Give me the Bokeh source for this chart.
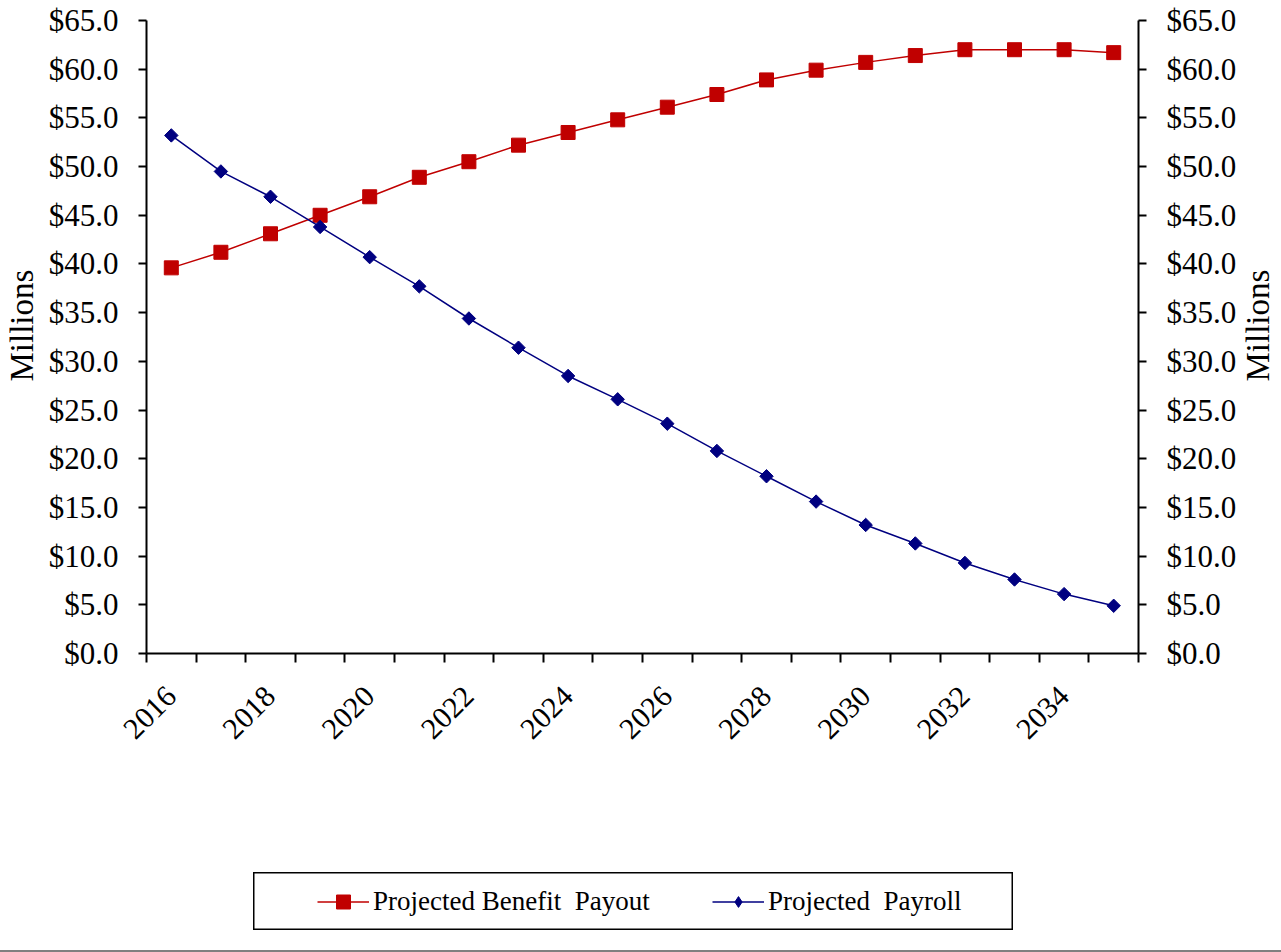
import math
from bokeh.plotting import figure
from bokeh.layouts import column, row
from bokeh.models import (Range1d, LinearAxis, FixedTicker, NumeralTickFormatter,
                          Legend, LegendItem, ColumnDataSource, Spacer, Label)
from bokeh.embed import file_html
from bokeh.resources import INLINE

# Projection data (millions of dollars)
years = list(range(2016, 2036))
benefit_payout = [39.6, 41.2, 43.1, 45.0, 46.9, 48.9, 50.5, 52.2, 53.5, 54.8,
                  56.1, 57.4, 58.9, 59.9, 60.7, 61.4, 62.0, 62.0, 62.0, 61.7]
payroll = [53.2, 49.5, 46.9, 43.8, 40.7, 37.7, 34.4, 31.4, 28.5, 26.1,
           23.6, 20.8, 18.2, 15.6, 13.2, 11.3, 9.3, 7.6, 6.1, 4.9]
y_ticks = [0, 5, 10, 15, 20, 25, 30, 35, 40, 45, 50, 55, 60, 65]
series_names = ["Projected Benefit  Payout", "Projected  Payroll"]
axis_title = "Millions"

FONT = "Liberation Serif"
RED = "#C00000"
NAVY = "#000080"

# categories sit at the middle of unit-wide slots
xpos = [i + 0.5 for i in range(len(years))]
src = ColumnDataSource(dict(x=xpos, year=years, benefit=benefit_payout, payroll=payroll))


def add_series(fig, payroll_marker="square", payroll_angle=math.pi / 4):
    r1 = fig.line("x", "benefit", source=src, line_color=RED, line_width=1.5)
    m1 = fig.scatter("x", "benefit", source=src, marker="square", size=14,
                     fill_color=RED, line_color=RED)
    r2 = fig.line("x", "payroll", source=src, line_color=NAVY, line_width=1.5)
    m2 = fig.scatter("x", "payroll", source=src, marker=payroll_marker, size=9.5,
                     angle=payroll_angle, fill_color=NAVY, line_color=NAVY)
    return (r1, m1), (r2, m2)


p = figure(frame_width=992, frame_height=633,
           min_border_left=106, min_border_top=20,
           min_border_right=99, min_border_bottom=107,
           x_range=Range1d(0, len(years)), y_range=Range1d(0, 65),
           output_backend="svg", toolbar_location=None,
           y_axis_location=None, x_axis_location=None)
p.grid.visible = False
p.outline_line_color = None
p.background_fill_color = "white"
p.border_fill_color = "white"


def style_y(ax):
    ax.ticker = FixedTicker(ticks=y_ticks)
    ax.formatter = NumeralTickFormatter(format="$0.0")
    ax.major_label_text_font = FONT
    ax.major_label_text_font_size = "31px"
    ax.major_label_text_color = "black"
    ax.major_label_standoff = 20
    ax.major_tick_out = 8
    ax.major_tick_in = 0
    ax.minor_tick_out = 0
    ax.minor_tick_in = 0
    ax.axis_line_width = 2
    ax.major_tick_line_width = 2
    ax.axis_line_color = "black"
    ax.major_tick_line_color = "black"


left = LinearAxis()
style_y(left)
p.add_layout(left, "left")

right = LinearAxis()
style_y(right)
p.add_layout(right, "right")

# x axis: tick marks on slot boundaries, labels on every other category
label_pos = [xpos[i] for i in range(0, len(years), 2)]
xax = LinearAxis(ticker=FixedTicker(ticks=label_pos, minor_ticks=list(range(len(years) + 1))))
xax.major_label_overrides = {xpos[i]: str(years[i]) for i in range(0, len(years), 2)}
xax.major_label_orientation = math.pi / 4
xax.major_label_text_font = FONT
xax.major_label_text_font_size = "30px"
xax.major_label_text_color = "black"
xax.major_label_standoff = 29
xax.major_tick_out = 0
xax.major_tick_in = 0
xax.minor_tick_out = 9
xax.minor_tick_in = 0
xax.minor_tick_line_width = 2
xax.minor_tick_line_color = "black"
xax.axis_line_width = 2
xax.axis_line_color = "black"
p.add_layout(xax, "below")

add_series(p)


def title_strip(width, x):
    """Narrow strip beside the chart holding a vertical 'Millions' title."""
    s = figure(frame_width=width, frame_height=633,
               min_border_left=0, min_border_right=0,
               min_border_top=20, min_border_bottom=107,
               x_range=Range1d(0, 1), y_range=Range1d(0, 1),
               output_backend="svg", toolbar_location=None,
               x_axis_location=None, y_axis_location=None)
    s.grid.visible = False
    s.outline_line_color = None
    s.border_fill_color = "white"
    s.add_layout(Label(x=x, y=0.518, text=axis_title, angle=math.pi / 2,
                       text_align="center", text_baseline="middle",
                       text_font=FONT, text_font_size="33px", text_color="black"))
    return s


left_title = title_strip(40, 0.54)
right_title = title_strip(42, 0.43)

# legend strip below the chart; its frame outline is the legend box and the
# series drawn in it lie outside its (empty) view
leg = figure(frame_width=760, frame_height=58,
             min_border_left=0, min_border_right=0,
             min_border_top=0, min_border_bottom=0,
             x_range=Range1d(-3, -2), y_range=Range1d(-3, -2),
             output_backend="svg", toolbar_location=None,
             x_axis_location=None, y_axis_location=None)
leg.grid.visible = False
leg.outline_line_color = "black"
leg.outline_line_width = 2
leg.border_fill_color = "white"
(k1, s1), (k2, s2) = add_series(leg, payroll_marker="diamond", payroll_angle=0)


def make_legend(label, renderers, glyph_h, loc):
    lg = Legend(items=[LegendItem(label=label, renderers=renderers)], location=loc)
    lg.label_text_font = FONT
    lg.label_text_font_size = "27px"
    lg.label_text_color = "black"
    lg.border_line_color = None
    lg.background_fill_alpha = 0
    lg.glyph_width = 52
    lg.glyph_height = glyph_h
    lg.label_standoff = 4
    lg.padding = 0
    lg.margin = 0
    return lg


# one legend per series so each marker keeps its own size
leg.add_layout(make_legend(series_names[0], [k1, s1], 35, (64, 11)), "center")
leg.add_layout(make_legend(series_names[1], [k2, s2], 27, (459, 13)), "center")

legend_strip = column(Spacer(width=1279, height=112),
                      row(Spacer(width=253, height=58), leg, Spacer(width=266, height=58)),
                      Spacer(width=1279, height=20))
page = column(row(left_title, p, right_title), legend_strip, spacing=0)
page.styles = {"border-right": "2px solid #000000", "border-bottom": "2px solid #808080"}

open("out.html", "w").write(file_html(page, INLINE))
